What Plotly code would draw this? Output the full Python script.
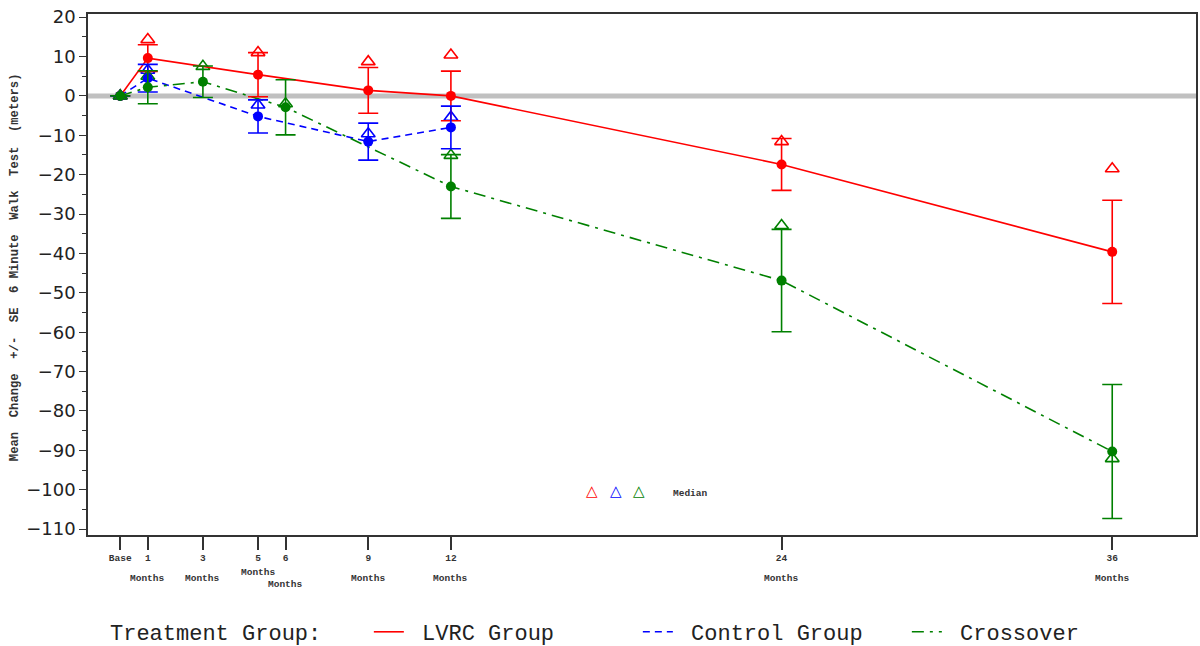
import plotly.graph_objects as go

# ---------------- data ----------------
tick_months = [0, 1, 3, 5, 6, 9, 12, 24, 36]
tick_labels = ["Base", "1", "3", "5", "6", "9", "12", "24", "36"]

months_lvrc = [0, 1, 5, 9, 12, 24, 36]
mean_lvrc = [0, 9.6, 5.4, 1.4, 0.0, -17.4, -39.6]
se_lvrc = [0, 3.4, 5.6, 5.8, 6.3, 6.6, 13.1]
median_lvrc = [0, 14.3, 11.0, 8.7, 10.4, -11.6, -18.5]

months_ctrl = [0, 1, 5, 9, 12]
mean_ctrl = [0, 4.5, -5.2, -11.6, -8.0]
se_ctrl = [0, 3.5, 4.2, 4.7, 5.4]
median_ctrl = [0, 6.5, -2.3, -9.6, -5.4]

months_cross = [0, 1, 3, 6, 12, 24, 36]
mean_cross = [0, 2.2, 3.6, -2.9, -23.0, -46.9, -90.3]
se_cross = [0, 4.2, 4.0, 7.0, 8.1, 13.0, 17.0]
median_cross = [0, 5.0, 7.5, -2.0, -15.1, -32.9, -92.1]

series = [
    ("LVRC Group", months_lvrc, mean_lvrc, se_lvrc, median_lvrc, "#FF0000", "solid"),
    ("Control Group", months_ctrl, mean_ctrl, se_ctrl, median_ctrl, "#0000FF", "7px,5px"),
    ("Crossover", months_cross, mean_cross, se_cross, median_cross, "#008000", "12px,6px,3px,6px"),
]

MONO = "Liberation Mono"

fig = go.Figure()

# median triangles
for name, xs, ms, ses, meds, col, dash in series:
    fig.add_trace(go.Scatter(
        x=xs, y=meds, mode="markers", showlegend=False, hoverinfo="skip",
        marker=dict(symbol="triangle-up-open", size=12, color=col,
                    line=dict(color=col, width=1.6)),
    ))

# mean lines (legend entries)
for name, xs, ms, ses, meds, col, dash in series:
    fig.add_trace(go.Scatter(
        x=xs, y=ms, mode="lines", name="\u00a0" + name,
        line=dict(color=col, width=1.6, dash=dash),
    ))

# mean markers with SE bars
for name, xs, ms, ses, meds, col, dash in series:
    fig.add_trace(go.Scatter(
        x=xs, y=ms, mode="markers", showlegend=False,
        marker=dict(symbol="circle", size=10, color=col),
        error_y=dict(type="data", array=ses, visible=True, color=col,
                     thickness=1.6, width=10),
    ))

# zero reference line
fig.add_shape(type="line", xref="paper", yref="y", x0=0, x1=1, y0=0, y1=0,
              line=dict(color="#C0C0C0", width=5), layer="below")

# "Months" second-line labels (staggered for 5 and 6)
month_py = {5: 572, 6: 584}
for m in tick_months[1:]:
    py = month_py.get(m, 578)
    fig.add_annotation(
        x=m, xref="x", y=(535 - py) / 521, yref="paper",
        text="<b>Months</b>", showarrow=False,
        font=dict(family=MONO, size=9.5, color="#333333"),
        xanchor="center", yanchor="middle",
    )

# y-axis title
fig.add_annotation(
    x=(15 - 88) / 1110, xref="paper", y=(535 - 267) / 521, yref="paper",
    text="<b>Mean  Change  +/-  SE  6 Minute  Walk  Test  (meters)</b>",
    textangle=-90, showarrow=False,
    font=dict(family=MONO, size=12.2, color="#333333"),
    xanchor="center", yanchor="middle",
)

# Median key inside plot
for px, col in [(593, "#FF0000"), (617, "#0000FF"), (640, "#008000")]:
    fig.add_annotation(
        x=(px - 88) / 1110, xref="paper", y=(535 - 491) / 521, yref="paper",
        text="△", showarrow=False, font=dict(family="DejaVu Sans", size=15, color=col),
        xanchor="center", yanchor="middle",
    )
fig.add_annotation(
    x=(692 - 88) / 1110, xref="paper", y=(535 - 493) / 521, yref="paper",
    text="<b>Median</b>", showarrow=False,
    font=dict(family=MONO, size=9.5, color="#333333"),
    xanchor="center", yanchor="middle",
)

fig.update_layout(
    width=1200, height=646,
    margin=dict(l=88, r=2, t=14, b=111),
    paper_bgcolor="white", plot_bgcolor="white",
    showlegend=True,
    legend=dict(
        orientation="h", xref="container", yref="container",
        x=108 / 1200, y=1 - 632 / 646, xanchor="left", yanchor="middle",
        title=dict(text="Treatment Group:\u00a0\u00a0\u00a0", font=dict(family=MONO, size=22, color="#222222")),
        font=dict(family=MONO, size=22, color="#222222"),
        entrywidth=224, entrywidthmode="pixels",
        bgcolor="rgba(0,0,0,0)",
    ),
    xaxis=dict(
        range=[-1.17, 39.04], tickmode="array", tickvals=tick_months,
        ticktext=["<b>%s</b>" % t for t in tick_labels],
        tickfont=dict(family=MONO, size=9.5, color="#333333"),
        ticks="outside", ticklen=13, tickwidth=1.5, tickcolor="#333333",
        showline=True, linecolor="#333333", linewidth=1.5, mirror=True,
        showgrid=False, zeroline=False,
    ),
    yaxis=dict(
        range=[-111.5, 20.8], tickmode="linear", tick0=0, dtick=10,
        tickfont=dict(family="DejaVu Sans", size=18, color="#222222"),
        ticks="outside", ticklen=7, tickwidth=1.3, tickcolor="#333333",
        minor=dict(dtick=5, ticks="outside", ticklen=4, tickcolor="#333333", tickwidth=1.3),
        showline=True, linecolor="#333333", linewidth=1.5, mirror=True,
        showgrid=False, zeroline=False,
    ),
)

fig.write_html("out.html", config={"displayModeBar": False},
               post_script="document.body.style.margin='0';document.body.style.overflow='hidden';")
